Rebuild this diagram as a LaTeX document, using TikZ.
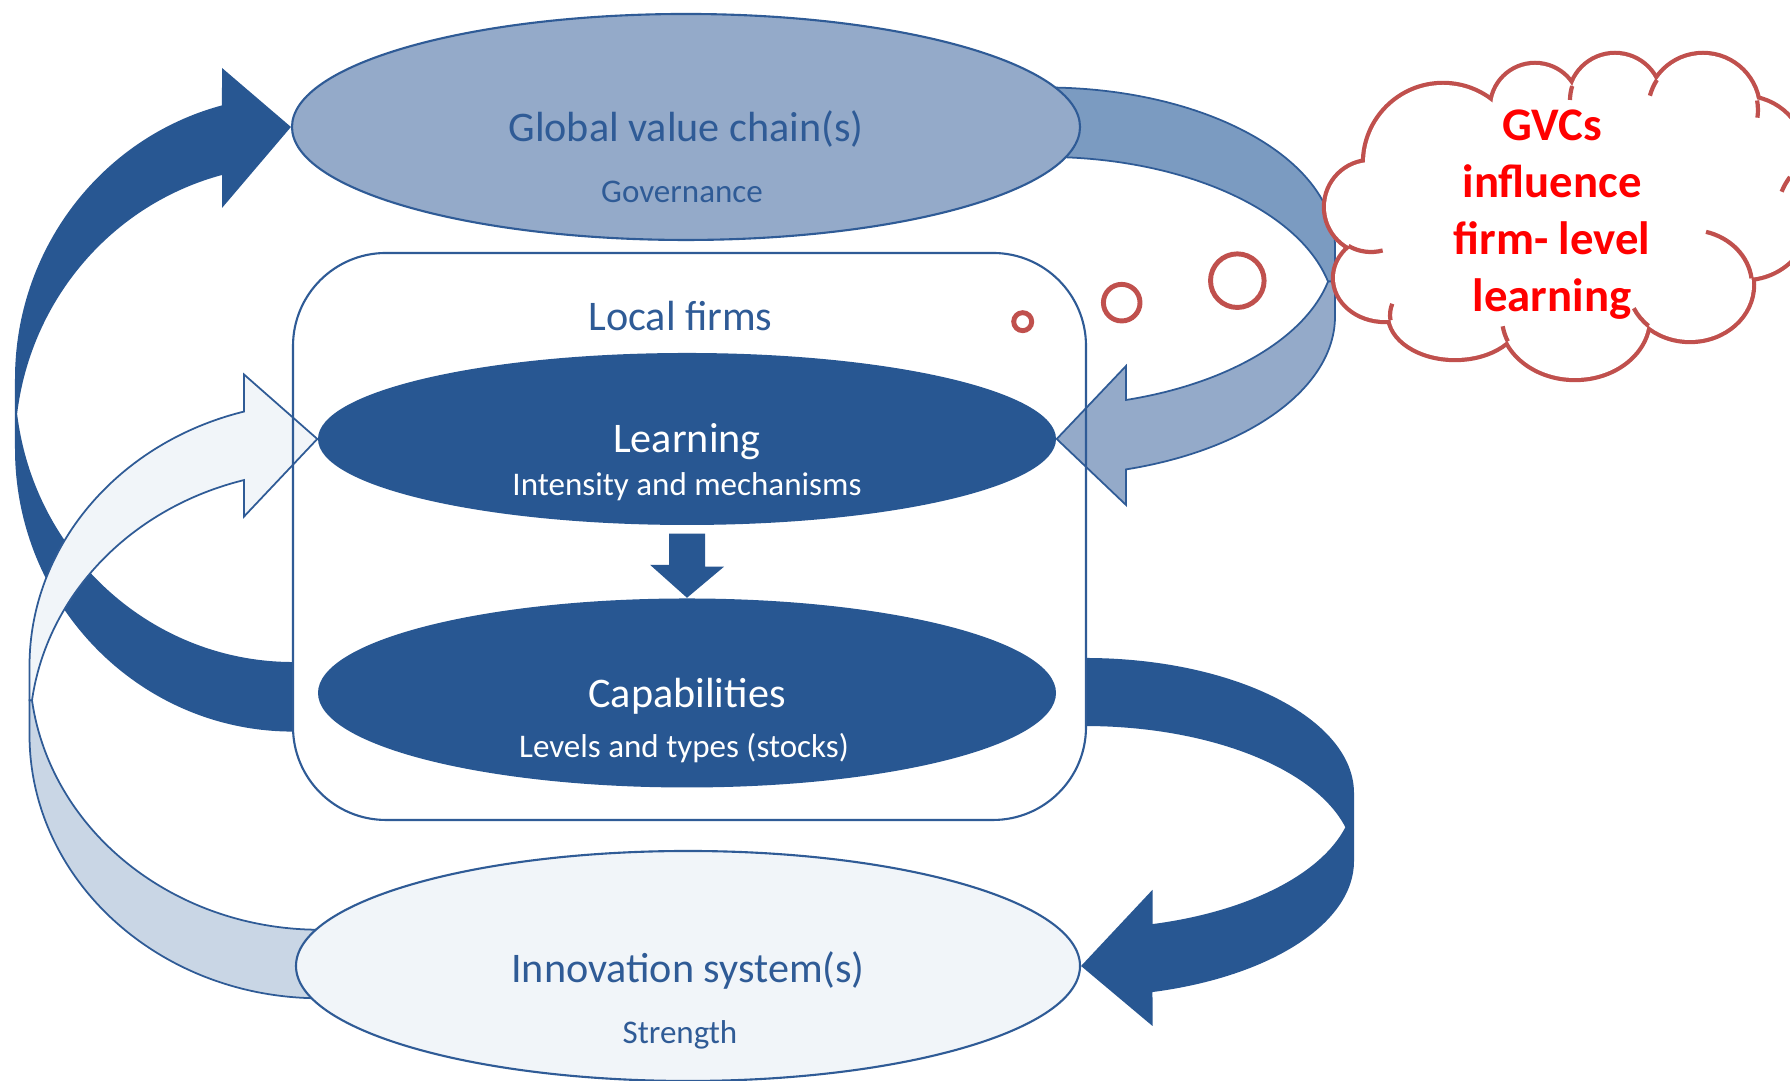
\documentclass[tikz,border=0pt]{standalone}
\usepackage{fontspec}
\setmainfont{Carlito}
\usetikzlibrary{calc,shapes.geometric,backgrounds}

\definecolor{navy}{HTML}{285792}
\definecolor{edge}{HTML}{2F5B96}
\definecolor{gvcfill}{HTML}{94AAC9}
\definecolor{gvcback}{HTML}{7B9BC1}
\definecolor{palefill}{HTML}{F1F5F9}
\definecolor{paleback}{HTML}{C9D6E5}
\definecolor{cloudred}{HTML}{C0504D}

% puffs of the cloud: x/y/x radius/y radius
\newcommand\puffs{14.43/9.18/0.78/0.78, 15.35/9.73/0.43/0.43, 16.15/9.81/0.45/0.45,
  17.03/9.71/0.55/0.55, 17.44/9.23/0.60/0.60, 17.45/8.68/0.65/0.65,
  16.90/7.96/0.62/0.55, 15.75/7.63/0.73/0.60, 14.55/7.66/0.65/0.43,
  13.85/8.03/0.50/0.42, 13.71/8.74/0.45/0.45}

\begin{document}
\begin{tikzpicture}[
    oval/.style={ellipse,inner sep=0pt},
    big/.style={font=\fontsize{12}{14}\selectfont},
    small/.style={font=\fontsize{9.4}{11}\selectfont},
    band/.style={draw=edge,line width=0.5pt},
    bubble/.style={circle,draw=cloudred,line width=1.4pt,fill=white,inner sep=0pt}]
  \useasboundingbox (0,0) rectangle (17.9,10.81);
  \clip (0,0) rectangle (17.9,10.81);

  \node[oval,fill=gvcfill,draw=edge,line width=0.6pt,minimum width=7.88cm,minimum height=2.26cm] (gvc) at (6.86,9.54) {};
  \node[big,text=edge] (gvctitle) at ([yshift=-0.02cm]gvc.center) {Global value chain(s)};
  \node[small,text=edge] (gvcsub) at ([xshift=-0.04cm,yshift=-0.65cm]gvc.center) {Governance};

  \node[draw=edge,line width=0.6pt,rounded corners=0.93cm,minimum width=7.93cm,minimum height=5.67cm] (firms) at (6.895,5.445) {};
  \node[big,text=edge] (firmstitle) at ([xshift=-0.09cm,yshift=-0.645cm]firms.north) {Local firms};

  \node[oval,fill=navy,minimum width=7.38cm,minimum height=1.72cm] (learn) at (6.87,6.42) {};
  \node[big,text=white] (learntitle) at ([yshift=-0.03cm]learn.center) {Learning};
  \node[small,text=white] (learnsub) at ([yshift=-0.48cm]learn.center) {Intensity and mechanisms};

  \node[oval,fill=navy,minimum width=7.38cm,minimum height=1.89cm] (capab) at (6.87,3.88) {};
  \node[big,text=white] (capabtitle) at ([yshift=-0.03cm]capab.center) {Capabilities};
  \node[small,text=white] (capabsub) at ([xshift=-0.03cm,yshift=-0.55cm]capab.center) {Levels and types (stocks)};

  \fill[navy] ($(learn.south)+(-0.18,-0.08)$) -- ++(0.36,0) -- ++(0,-0.33) -- ++(0.19,0)
    -- (capab.north) -- ++(-0.37,0.33) -- ++(0.19,0) -- cycle;

  \node[oval,fill=palefill,draw=edge,line width=0.6pt,minimum width=7.84cm,minimum height=2.30cm] (inno) at (6.88,1.15) {};
  \node[big,text=edge] (innotitle) at ([yshift=-0.04cm]inno.center) {Innovation system(s)};
  \node[small,text=edge] (innosub) at ([xshift=-0.08cm,yshift=-0.69cm]inno.center) {Strength};

  \begin{scope}[on background layer]
    \fill[white] (0,0) rectangle (17.9,10.81);
    % capabilities back up to the value chain
    \fill[navy] (2.93,3.494) arc[start angle=270,end angle=180,x radius=2.78,y radius=2.83]
      -- (0.15,7.02) arc[start angle=180,end angle=104.8,x radius=2.78,y radius=2.83]
      -- (2.22,10.13) -- (gvc.west) -- (2.22,8.73) -- (2.22,9.06)
      arc[start angle=104.8,end angle=172.94,x radius=2.78,y radius=2.83]
      arc[start angle=187.06,end angle=270,x radius=2.78,y radius=2.83] -- cycle;
    % value chain into learning
    \filldraw[band,fill=gvcback] (10.45,9.935) arc[start angle=90,end angle=0,x radius=2.9,y radius=1.594]
      -- (13.35,7.994) -- (13.28,7.994)
      arc[start angle=12.59,end angle=90,x radius=2.9,y radius=1.594] -- cycle;
    \filldraw[band,fill=gvcfill] (13.28,7.994) -- (13.35,7.994) -- (13.35,7.646)
      arc[start angle=0,end angle=-73.78,x radius=2.9,y radius=1.594]
      -- (11.26,5.76) -- (learn.east) -- (11.26,7.15) -- (11.26,6.81)
      arc[start angle=-73.78,end angle=-12.59,x radius=2.9,y radius=1.594] -- cycle;
    % innovation system into learning
    \filldraw[band,fill=paleback] (3.20,0.827) arc[start angle=270,end angle=180,x radius=2.905,y radius=2.637]
      -- (0.295,3.807) -- (0.32,3.807)
      arc[start angle=187.46,end angle=270,x radius=2.905,y radius=2.637] -- cycle;
    \filldraw[band,fill=palefill] (0.32,3.807) -- (0.295,3.807) -- (0.295,4.149)
      arc[start angle=180,end angle=105.17,x radius=2.905,y radius=2.637]
      -- (2.44,7.065) -- (learn.west) -- (2.44,5.644) -- (2.44,6.009)
      arc[start angle=105.17,end angle=172.54,x radius=2.905,y radius=2.637] -- cycle;
    % capabilities down to the innovation system
    \fill[navy] (10.85,4.23) arc[start angle=90,end angle=0,x radius=2.69,y radius=1.352]
      -- (13.54,2.198) arc[start angle=0,end angle=-75.47,x radius=2.69,y radius=1.352]
      -- (11.525,0.55) -- (inno.east) -- (11.525,1.912) -- (11.525,1.569)
      arc[start angle=-75.47,end angle=-14.57,x radius=2.69,y radius=1.352]
      arc[start angle=14.57,end angle=90,x radius=2.69,y radius=1.352] -- cycle;
  \end{scope}

  % thought cloud
  \foreach \cx/\cy/\rx/\ry in \puffs
    \draw[cloudred,line width=2.4pt] (\cx,\cy) ellipse[x radius=\rx,y radius=\ry];
  \foreach \cx/\cy/\rx/\ry in \puffs
    \fill[white] (\cx,\cy) ellipse[x radius=\rx,y radius=\ry];
  \fill[white] (15.6,8.66) ellipse[x radius=1.7,y radius=1.1];
  \fill[white] (16.6,8.9) ellipse[x radius=0.9,y radius=0.6];
  \draw[cloudred,line width=1.2pt]
    (17.515,8.027) arc[start angle=7,end angle=75,x radius=0.62,y radius=0.55]
    (13.485,8.350) arc[start angle=240,end angle=285,radius=0.45]
    (15.722,9.949) arc[start angle=162,end angle=180,radius=0.45]
    (16.569,10.01) arc[start angle=147,end angle=165,radius=0.55]
    (17.571,9.805) arc[start angle=10,end angle=-8,radius=0.55]
    (17.90,9.04) arc[start angle=142.8,end angle=158,radius=0.64]
    (13.905,7.608) arc[start angle=187,end angle=165,x radius=0.65,y radius=0.43]
    (16.485,7.551) arc[start angle=228,end angle=205,x radius=0.62,y radius=0.55]
    (15.078,7.396) arc[start angle=203,end angle=188,x radius=0.73,y radius=0.60];
  \node[font=\fontsize{13.3}{16.2}\selectfont\bfseries,text=red,align=center] (gvcs) at (15.52,8.66)
    {GVCs\\influence\\firm- level\\learning};

  \node[bubble,minimum size=0.18cm] (b1) at (10.227,7.593) {};
  \node[bubble,minimum size=0.366cm] (b2) at (11.217,7.783) {};
  \node[bubble,minimum size=0.536cm] (b3) at (12.373,8.003) {};
\end{tikzpicture}
\end{document}
